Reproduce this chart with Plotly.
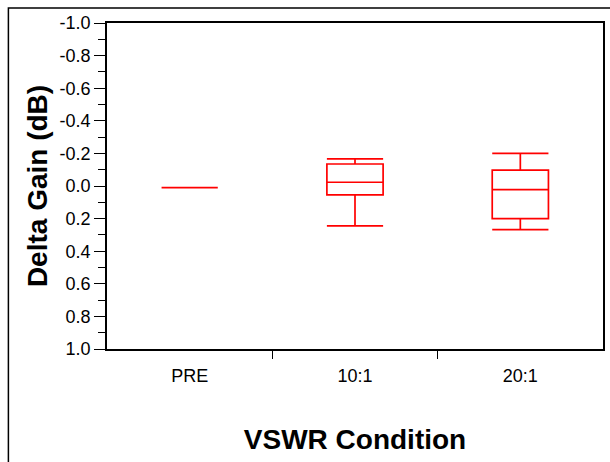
import plotly.graph_objects as go

categories = ["PRE", "10:1", "20:1"]
whisker_low = [0.01, -0.166, -0.200]
q1_vals = [0.01, -0.135, -0.098]
median_vals = [0.01, -0.023, 0.022]
q3_vals = [0.01, 0.055, 0.200]
whisker_high = [0.01, 0.245, 0.268]

y_tick_vals = [-1.0, -0.8, -0.6, -0.4, -0.2, 0.0, 0.2, 0.4, 0.6, 0.8, 1.0]
y_tick_text = ["-1.0", "-0.8", "-0.6", "-0.4", "-0.2", "0.0", "0.2", "0.4", "0.6", "0.8", "1.0"]
x_separator_positions = [0.5, 1.5]

FONT = "Liberation Sans, Arial, sans-serif"

fig = go.Figure()
fig.add_trace(go.Box(
    x=categories,
    lowerfence=whisker_low,
    q1=q1_vals,
    median=median_vals,
    q3=q3_vals,
    upperfence=whisker_high,
    width=0.34,
    whiskerwidth=1,
    line=dict(color="#ff0000", width=1.7),
    fillcolor="rgba(0,0,0,0)",
    boxpoints=False,
    showlegend=False,
    hoverinfo="skip",
))
# invisible helper trace so the overlay axis (category separators) is drawn
fig.add_trace(go.Scatter(
    x=x_separator_positions, y=[0.0, 0.0], xaxis="x2", yaxis="y",
    mode="markers", marker=dict(opacity=0), showlegend=False, hoverinfo="skip",
))

fig.update_layout(
    width=610, height=462,
    margin=dict(l=107, r=5, t=23, b=113),
    paper_bgcolor="white", plot_bgcolor="white",
    font=dict(family=FONT, size=18, color="black"),
    xaxis=dict(
        type="category",
        categoryorder="array", categoryarray=categories,
        range=[-0.5, 2.5],
        showline=True, linecolor="black", linewidth=1.5, mirror=True,
        ticks="", ticklabelstandoff=10,
        showgrid=False, zeroline=False,
        tickfont=dict(family=FONT, size=18),
        title=dict(text="VSWR Condition", font=dict(family=FONT, size=28, weight="bold"), standoff=44),
    ),
    xaxis2=dict(
        overlaying="x", anchor="y", side="bottom",
        range=[-0.5, 2.5], tickvals=x_separator_positions,
        ticks="outside", ticklen=9, tickwidth=1.2, tickcolor="black",
        showticklabels=False, showline=False, showgrid=False, zeroline=False,
    ),
    yaxis=dict(
        range=[1.0, -1.0],
        tickvals=y_tick_vals, ticktext=y_tick_text,
        showline=True, linecolor="black", linewidth=1.5, mirror=True,
        ticks="outside", ticklen=11, tickwidth=1.2, tickcolor="black",
        minor=dict(ticks="outside", ticklen=7, tickwidth=1.2, tickcolor="black", dtick=0.1, tick0=0, showgrid=False),
        showgrid=False, zeroline=False,
        tickfont=dict(family=FONT, size=18),
        title=dict(text="Delta Gain (dB)", font=dict(family=FONT, size=28, weight="bold"), standoff=4),
    ),
)

# outer frame
fig.add_shape(type="rect", xref="paper", yref="paper",
              x0=(8 - 107) / 498, x1=1.2, y0=-0.6, y1=1 + 15 / 326,
              line=dict(color="black", width=1.5), fillcolor="rgba(0,0,0,0)", layer="below")

fig.write_html("out.html")
